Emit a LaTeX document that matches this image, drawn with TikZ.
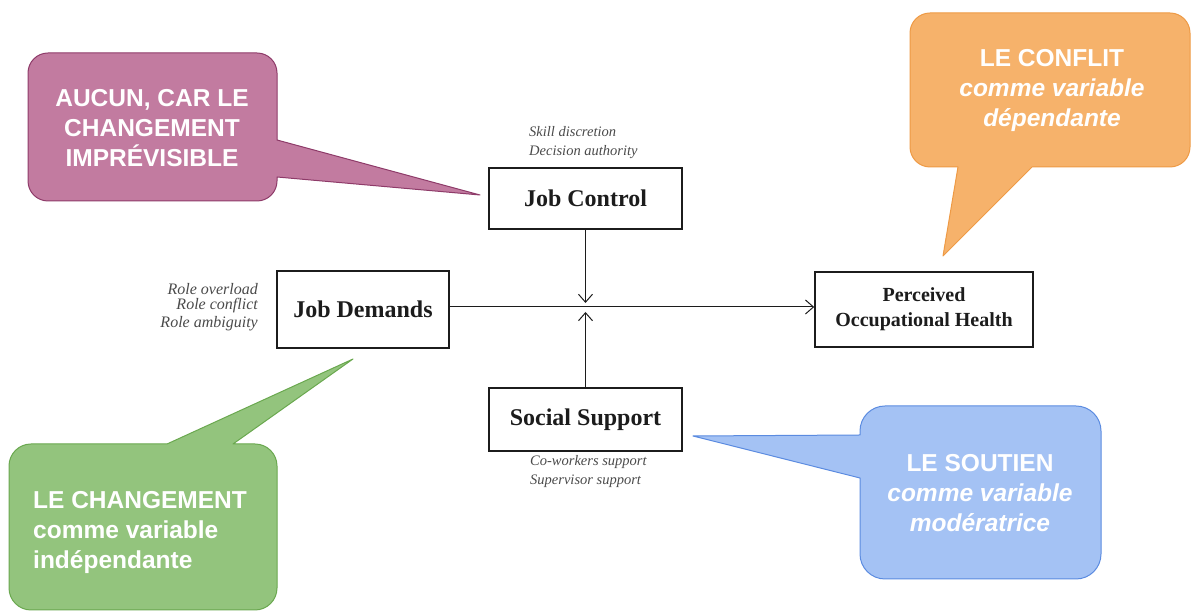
\documentclass[tikz,border=0pt]{standalone}
\usepackage{fontspec}
\setmainfont{Liberation Serif}
\newfontfamily\calloutfont{Liberation Sans}
\usetikzlibrary{arrows.meta,calc}

\definecolor{pinkfill}{HTML}{C27BA0}
\definecolor{pinkline}{HTML}{8E3B69}
\definecolor{greenfill}{HTML}{93C47D}
\definecolor{greenline}{HTML}{6AA84F}
\definecolor{bluefill}{HTML}{A4C2F4}
\definecolor{blueline}{HTML}{5B8BE0}
\definecolor{orangefill}{HTML}{F6B26B}
\definecolor{orangeline}{HTML}{EE9A45}
\definecolor{inkdark}{HTML}{1C1C1C}
\definecolor{notegray}{HTML}{4A4A4A}

\begin{document}
\begin{tikzpicture}[x=1pt,y=1pt,
  varbox/.style={draw=inkdark, line width=1.6pt, fill=white, align=center,
    font=\fontsize{24}{26}\selectfont\bfseries, text=inkdark, inner sep=0pt},
  note/.style={font=\fontsize{14.5}{17}\selectfont\itshape, text=notegray, inner sep=0pt},
  flow/.style={draw=inkdark, line width=1pt, -{Straight Barb[length=8pt,width=14pt,line width=1pt]}},
  bubble/.style={line width=1pt, line join=round},
  bubbletext/.style={text=white, font=\calloutfont\fontsize{24.5}{30}\selectfont\bfseries, inner sep=0pt}]

\useasboundingbox (0,0) rectangle (1192,612);

% variable boxes
\node[varbox, minimum width=193pt, minimum height=61pt] (jc) at (585.5,413.5) {Job Control};
\node[varbox, minimum width=172pt, minimum height=77pt] (jd) at (363,302.5) {Job Demands};
\node[varbox, minimum width=193pt, minimum height=63pt] (ss) at (585.5,192.5) {Social Support};
\node[varbox, minimum width=218pt, minimum height=75pt,
      font=\fontsize{20}{25}\selectfont\bfseries] (ph) at (924,302.5) {Perceived\\Occupational Health};

% dimension notes
\node[note, anchor=west] (n1) at (529,480) {Skill discretion};
\node[note, anchor=west] (n2) at (529,460) {Decision authority};
\node[note, anchor=east, font=\fontsize{16}{18}\selectfont\itshape] (r1) at (258,323) {Role overload};
\node[note, anchor=east, font=\fontsize{16}{18}\selectfont\itshape] (r2) at (258,306) {Role conflict};
\node[note, anchor=east, font=\fontsize{16}{18}\selectfont\itshape] (r3) at (258,288) {Role ambiguity};
\node[note, anchor=west] (s1) at (530,150) {Co-workers support};
\node[note, anchor=west] (s2) at (530,131) {Supervisor support};

% connectors
\coordinate (mid) at (585.5,305);
\coordinate (midtop) at (585.5,309);
\coordinate (midbot) at (585.5,300);
\draw[flow] (jd.east |- mid) -- (ph.west |- mid);
\draw[flow] (jc.south) -- (midtop);
\draw[flow] (ss.north) -- (midbot);

% callout: pink
\filldraw[bubble, fill=pinkfill, draw=pinkline]
  (48,559) -- (257,559) arc[start angle=90,end angle=0,radius=20pt]
  -- (277,472) -- (480,417) -- (277,435) -- (277,431)
  arc[start angle=0,end angle=-90,radius=20pt] -- (48,411)
  arc[start angle=270,end angle=180,radius=20pt] -- (28,539)
  arc[start angle=180,end angle=90,radius=20pt] -- cycle;
\node[bubbletext, align=center] (tp) at (152,484) {AUCUN, CAR LE\\CHANGEMENT\\IMPRÉVISIBLE};

% callout: green
\filldraw[bubble, fill=greenfill, draw=greenline]
  (31,168) -- (167,168) -- (353,253) -- (233,168) -- (255,168)
  arc[start angle=90,end angle=0,radius=22pt] -- (277,24)
  arc[start angle=0,end angle=-90,radius=22pt] -- (31,2)
  arc[start angle=270,end angle=180,radius=22pt] -- (9,146)
  arc[start angle=180,end angle=90,radius=22pt] -- cycle;
\node[bubbletext, align=left, anchor=west] (tg) at (33,80) {LE CHANGEMENT\\comme variable\\indépendante};

% callout: blue
\filldraw[bubble, fill=bluefill, draw=blueline]
  (885,206) -- (1076,206) arc[start angle=90,end angle=0,radius=25pt]
  -- (1101,58) arc[start angle=0,end angle=-90,radius=25pt]
  -- (885,33) arc[start angle=270,end angle=180,radius=25pt]
  -- (860,134) -- (693,176) -- (860,177) -- (860,181)
  arc[start angle=180,end angle=90,radius=25pt] -- cycle;
\node[bubbletext, align=center] (tb) at (980,119) {LE SOUTIEN\\\itshape comme variable\\\itshape modératrice};

% callout: orange
\filldraw[bubble, fill=orangefill, draw=orangeline]
  (930,599) -- (1170,599) arc[start angle=90,end angle=0,radius=20pt]
  -- (1190,465) arc[start angle=0,end angle=-90,radius=20pt]
  -- (1032,445) -- (943,356) -- (958,445) -- (930,445)
  arc[start angle=270,end angle=180,radius=20pt] -- (910,579)
  arc[start angle=180,end angle=90,radius=20pt] -- cycle;
\node[bubbletext, align=center] (to) at (1052,522) {LE CONFLIT\\\itshape comme variable\\\itshape dépendante};

\end{tikzpicture}
\end{document}
